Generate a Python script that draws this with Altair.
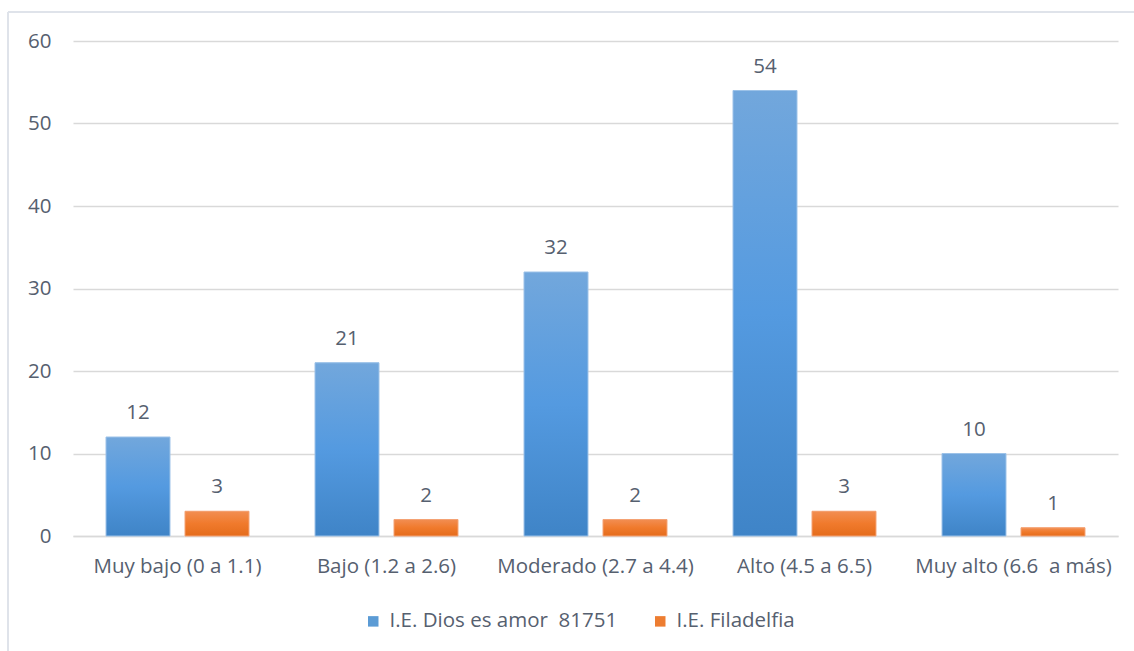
import altair as alt
import pandas as pd

categories = ["Muy bajo (0 a 1.1)", "Bajo (1.2 a 2.6)", "Moderado (2.7 a 4.4)",
              "Alto (4.5 a 6.5)", "Muy alto (6.6\u00a0 a más)"]
series = ["I.E. Dios es amor\u00a0 81751", "I.E. Filadelfia"]
dios_values = [12, 21, 32, 54, 10]
fila_values = [3, 2, 2, 3, 1]

rows = []
for c, v in zip(categories, dios_values):
    rows.append({"cat": c, "serie": series[0], "value": v})
for c, v in zip(categories, fila_values):
    rows.append({"cat": c, "serie": series[1], "value": v})
df = pd.DataFrame(rows)

FONT = "Open Sans"
FS = 20.5
GRAY = "#56606f"
GRID = "#d9d9d9"

x_enc = alt.X("cat:N", sort=categories, title=None,
              scale=alt.Scale(paddingInner=0.316, paddingOuter=0.158),
              axis=alt.Axis(labelAngle=0, labelFont=FONT, labelFontSize=FS,
                            labelColor=GRAY, labelPadding=20, ticks=False,
                            domainColor=GRID, domainWidth=1.5, labelLimit=300))
xo_enc = alt.XOffset("serie:N", sort=series,
                     scale=alt.Scale(paddingInner=0.19, paddingOuter=0))
y_enc = alt.Y("value:Q", title=None,
              scale=alt.Scale(domain=[0, 60], nice=False),
              axis=alt.Axis(values=[0, 10, 20, 30, 40, 50, 60], labelFont=FONT,
                            labelFontSize=FS, labelColor=GRAY, labelPadding=22,
                            ticks=False, domain=False, gridColor=GRID,
                            gridWidth=1.5))

base = alt.Chart(df).encode(x=x_enc, xOffset=xo_enc, y=y_enc)

legend_bars = base.mark_bar().encode(
    color=alt.Color("serie:N", sort=series,
                    scale=alt.Scale(domain=series, range=["#5b9bd5", "#ed7d31"]),
                    legend=alt.Legend(title=None, orient="none", direction="horizontal",
                                      legendX=290, legendY=570, symbolType="square",
                                      symbolSize=110, symbolStrokeWidth=0,
                                      labelFont=FONT, labelFontSize=FS,
                                      labelColor=GRAY, columnPadding=32,
                                      labelOffset=6, labelLimit=400))
)

blue_grad = alt.LinearGradient(
    gradient="linear", x1=0, x2=0, y1=0, y2=1,
    stops=[alt.GradientStop(color="#72a7dc", offset=0),
           alt.GradientStop(color="#549ae0", offset=0.5),
           alt.GradientStop(color="#3f84c7", offset=1)])
orange_grad = alt.LinearGradient(
    gradient="linear", x1=0, x2=0, y1=0, y2=1,
    stops=[alt.GradientStop(color="#f28e52", offset=0),
           alt.GradientStop(color="#f07a2c", offset=0.5),
           alt.GradientStop(color="#e46c1c", offset=1)])

blue_bars = base.mark_bar(color=blue_grad, stroke="#9cc2e8", strokeWidth=1).transform_filter(
    alt.datum.serie == series[0])
orange_bars = base.mark_bar(color=orange_grad, stroke="#f4a274", strokeWidth=1).transform_filter(
    alt.datum.serie == series[1])

labels = base.mark_text(font=FONT, fontSize=FS, color=GRAY, baseline="alphabetic",
                        dy=-18).encode(text="value:Q")

# light chart-area border (top and left edges visible in the reference)
border_df = pd.DataFrame({"k": [0]})
border_top = alt.Chart(border_df).mark_rule(color="#dfe3ea", strokeWidth=2).encode(
    x=alt.value(-65), x2=alt.value(1070), y=alt.value(-29))
border_left = alt.Chart(border_df).mark_rule(color="#dfe3ea", strokeWidth=2).encode(
    x=alt.value(-65), y=alt.value(-29), y2=alt.value(620))

chart = alt.layer(border_top, border_left, legend_bars, blue_bars, orange_bars, labels).properties(
    width=1045, height=495,
    autosize=alt.AutoSizeParams(type="none"),
    padding={"left": 73, "top": 41, "right": 16, "bottom": 115},
    background="white",
).configure_view(stroke=None)

chart.save("out.html", embed_options={"renderer": "svg", "actions": False})
